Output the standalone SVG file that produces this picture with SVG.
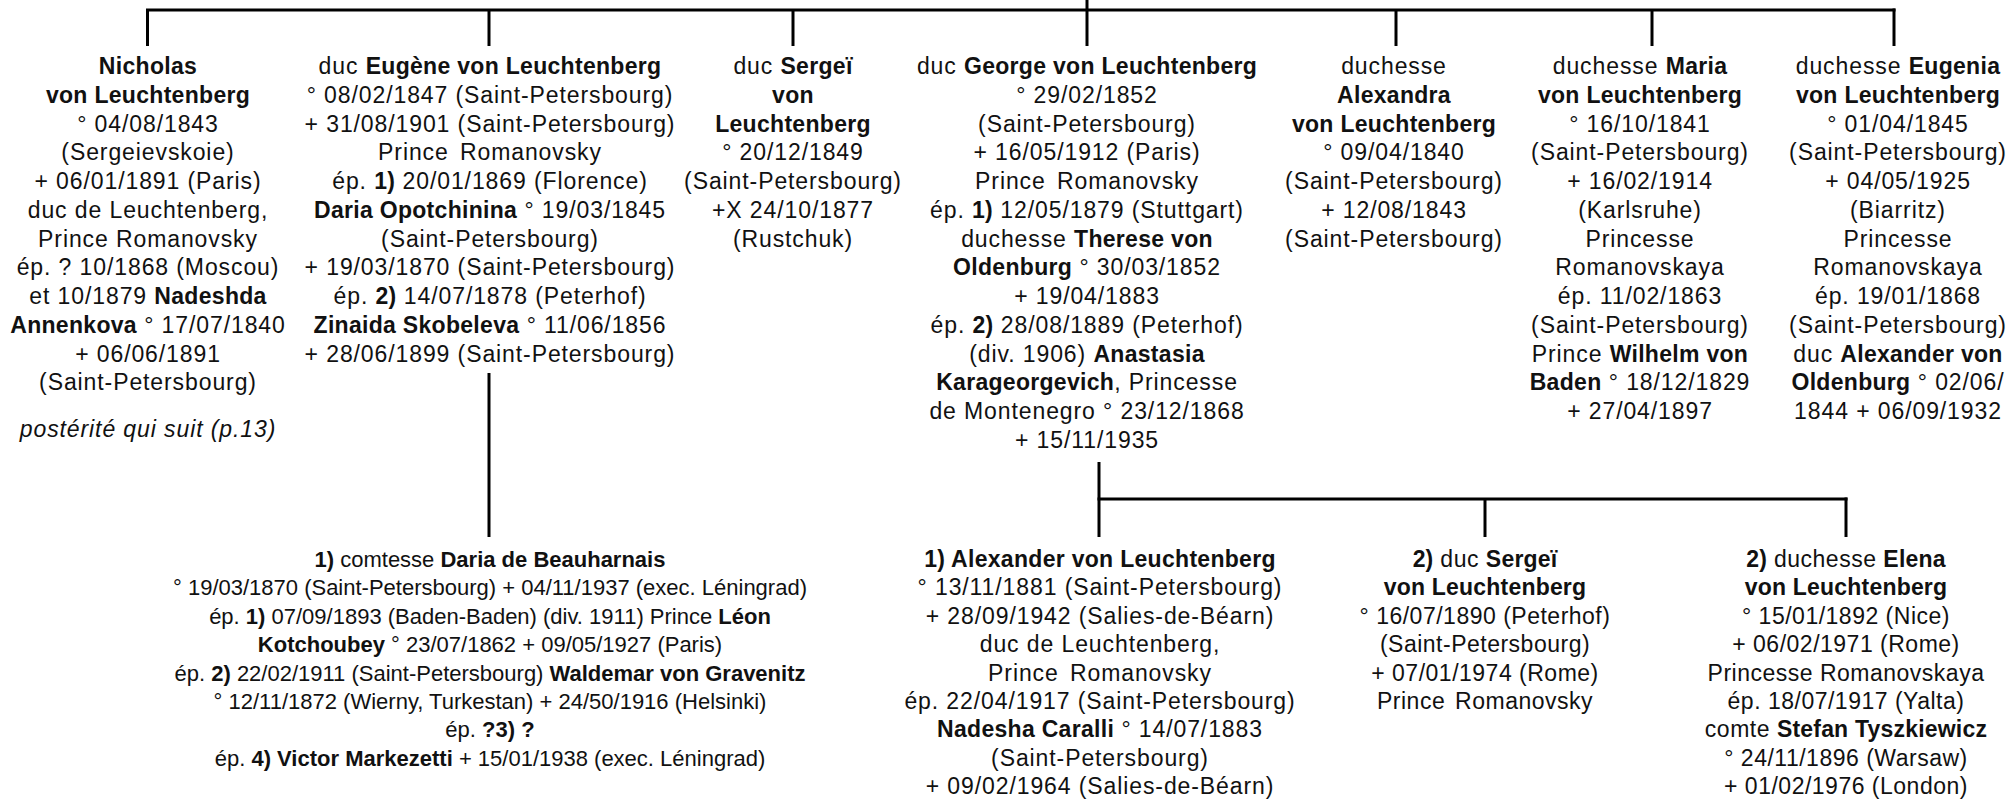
<svg xmlns="http://www.w3.org/2000/svg" width="2011" height="800" viewBox="0 0 2011 800">
<style>
text{font-family:"Liberation Sans",Arial,sans-serif;font-size:23px;fill:#111;text-anchor:middle;letter-spacing:0.9px}
.b{font-weight:bold;letter-spacing:0.3px}
.i{font-style:italic}
.d text{font-size:22px;letter-spacing:0px}
.d .b{letter-spacing:0px}
.e text{letter-spacing:0.5px}
.e .b{letter-spacing:0.2px}
#connectors line{stroke:#000;stroke-width:3;fill:none}
</style>
<rect width="2011" height="800" fill="#fff"/>
<g id="connectors">
<line x1="146" y1="10" x2="1895.5" y2="10"/>
<line x1="1087" y1="0" x2="1087" y2="46"/>
<line x1="147.5" y1="10" x2="147.5" y2="46"/>
<line x1="489" y1="10" x2="489" y2="46"/>
<line x1="793" y1="10" x2="793" y2="46"/>
<line x1="1396" y1="10" x2="1396" y2="46"/>
<line x1="1652" y1="10" x2="1652" y2="46"/>
<line x1="1894" y1="8.5" x2="1894" y2="46"/>
<line x1="489" y1="373" x2="489" y2="537"/>
<line x1="1099" y1="462" x2="1099" y2="537"/>
<line x1="1097.5" y1="499" x2="1847.5" y2="499"/>
<line x1="1485" y1="499" x2="1485" y2="537"/>
<line x1="1846" y1="497.5" x2="1846" y2="537"/>
</g>
<g id="n-nicholas">
<text x="148" y="74"><tspan class="b">Nicholas</tspan></text>
<text x="148" y="102.75"><tspan class="b">von Leuchtenberg</tspan></text>
<text x="148" y="131.5">° 04/08/1843</text>
<text x="148" y="160.25">(Sergeievskoie)</text>
<text x="148" y="189">+ 06/01/1891 (Paris)</text>
<text x="148" y="217.75">duc de Leuchtenberg,</text>
<text x="148" y="246.5">Prince Romanovsky</text>
<text x="148" y="275.25">ép. ? 10/1868 (Moscou)</text>
<text x="148" y="304">et 10/1879 <tspan class="b">Nadeshda</tspan></text>
<text x="148" y="332.75"><tspan class="b">Annenkova</tspan> ° 17/07/1840</text>
<text x="148" y="361.5">+ 06/06/1891</text>
<text x="148" y="390.25">(Saint-Petersbourg)</text>
<text x="148" y="437" class="i">postérité qui suit (p.13)</text>
</g>
<g id="n-eugene">
<text x="490" y="74">duc <tspan class="b">Eugène von Leuchtenberg</tspan></text>
<text x="490" y="102.75">° 08/02/1847 (Saint-Petersbourg)</text>
<text x="490" y="131.5">+ 31/08/1901 (Saint-Petersbourg)</text>
<text x="490" y="160.25" word-spacing="4">Prince Romanovsky</text>
<text x="490" y="189">ép. <tspan class="b">1)</tspan> 20/01/1869 (Florence)</text>
<text x="490" y="217.75"><tspan class="b">Daria Opotchinina</tspan> ° 19/03/1845</text>
<text x="490" y="246.5">(Saint-Petersbourg)</text>
<text x="490" y="275.25">+ 19/03/1870 (Saint-Petersbourg)</text>
<text x="490" y="304">ép. <tspan class="b">2)</tspan> 14/07/1878 (Peterhof)</text>
<text x="490" y="332.75"><tspan class="b">Zinaida Skobeleva</tspan> ° 11/06/1856</text>
<text x="490" y="361.5">+ 28/06/1899 (Saint-Petersbourg)</text>
</g>
<g id="n-sergei">
<text x="793" y="74">duc <tspan class="b">Sergeï</tspan></text>
<text x="793" y="102.75"><tspan class="b">von</tspan></text>
<text x="793" y="131.5"><tspan class="b">Leuchtenberg</tspan></text>
<text x="793" y="160.25">° 20/12/1849</text>
<text x="793" y="189">(Saint-Petersbourg)</text>
<text x="793" y="217.75">+X 24/10/1877</text>
<text x="793" y="246.5">(Rustchuk)</text>
</g>
<g id="n-george">
<text x="1087" y="74">duc <tspan class="b">George von Leuchtenberg</tspan></text>
<text x="1087" y="102.75">° 29/02/1852</text>
<text x="1087" y="131.5">(Saint-Petersbourg)</text>
<text x="1087" y="160.25">+ 16/05/1912 (Paris)</text>
<text x="1087" y="189" word-spacing="4">Prince Romanovsky</text>
<text x="1087" y="217.75">ép. <tspan class="b">1)</tspan> 12/05/1879 (Stuttgart)</text>
<text x="1087" y="246.5">duchesse <tspan class="b">Therese von</tspan></text>
<text x="1087" y="275.25"><tspan class="b">Oldenburg</tspan> ° 30/03/1852</text>
<text x="1087" y="304">+ 19/04/1883</text>
<text x="1087" y="332.75">ép. <tspan class="b">2)</tspan> 28/08/1889  (Peterhof)</text>
<text x="1087" y="361.5">(div. 1906) <tspan class="b">Anastasia</tspan></text>
<text x="1087" y="390.25"><tspan class="b">Karageorgevich</tspan>, Princesse</text>
<text x="1087" y="419">de Montenegro ° 23/12/1868</text>
<text x="1087" y="447.75">+ 15/11/1935</text>
</g>
<g id="n-alexandra">
<text x="1394" y="74">duchesse</text>
<text x="1394" y="102.75"><tspan class="b">Alexandra</tspan></text>
<text x="1394" y="131.5"><tspan class="b">von Leuchtenberg</tspan></text>
<text x="1394" y="160.25">° 09/04/1840</text>
<text x="1394" y="189">(Saint-Petersbourg)</text>
<text x="1394" y="217.75">+ 12/08/1843</text>
<text x="1394" y="246.5">(Saint-Petersbourg)</text>
</g>
<g id="n-maria">
<text x="1640" y="74">duchesse <tspan class="b">Maria</tspan></text>
<text x="1640" y="102.75"><tspan class="b">von Leuchtenberg</tspan></text>
<text x="1640" y="131.5">° 16/10/1841</text>
<text x="1640" y="160.25">(Saint-Petersbourg)</text>
<text x="1640" y="189">+ 16/02/1914</text>
<text x="1640" y="217.75">(Karlsruhe)</text>
<text x="1640" y="246.5">Princesse</text>
<text x="1640" y="275.25">Romanovskaya</text>
<text x="1640" y="304">ép. 11/02/1863</text>
<text x="1640" y="332.75">(Saint-Petersbourg)</text>
<text x="1640" y="361.5">Prince <tspan class="b">Wilhelm von</tspan></text>
<text x="1640" y="390.25"><tspan class="b">Baden</tspan> ° 18/12/1829</text>
<text x="1640" y="419">+ 27/04/1897</text>
</g>
<g id="n-eugenia">
<text x="1898" y="74">duchesse <tspan class="b">Eugenia</tspan></text>
<text x="1898" y="102.75"><tspan class="b">von Leuchtenberg</tspan></text>
<text x="1898" y="131.5">° 01/04/1845</text>
<text x="1898" y="160.25">(Saint-Petersbourg)</text>
<text x="1898" y="189">+ 04/05/1925</text>
<text x="1898" y="217.75">(Biarritz)</text>
<text x="1898" y="246.5">Princesse</text>
<text x="1898" y="275.25">Romanovskaya</text>
<text x="1898" y="304">ép. 19/01/1868</text>
<text x="1898" y="332.75">(Saint-Petersbourg)</text>
<text x="1898" y="361.5">duc <tspan class="b">Alexander von</tspan></text>
<text x="1898" y="390.25"><tspan class="b">Oldenburg</tspan> ° 02/06/</text>
<text x="1898" y="419">1844 + 06/09/1932</text>
</g>
<g id="n-daria" class="d">
<text x="490" y="567"><tspan class="b">1)</tspan> comtesse <tspan class="b">Daria de Beauharnais</tspan></text>
<text x="490" y="595.4">° 19/03/1870 (Saint-Petersbourg) + 04/11/1937 (exec. Léningrad)</text>
<text x="490" y="623.8">ép. <tspan class="b">1)</tspan> 07/09/1893 (Baden-Baden) (div. 1911) Prince <tspan class="b">Léon</tspan></text>
<text x="490" y="652.2"><tspan class="b">Kotchoubey</tspan> ° 23/07/1862 + 09/05/1927 (Paris)</text>
<text x="490" y="680.6">ép. <tspan class="b">2)</tspan> 22/02/1911 (Saint-Petersbourg) <tspan class="b">Waldemar von Gravenitz</tspan></text>
<text x="490" y="709">° 12/11/1872 (Wierny, Turkestan) + 24/50/1916 (Helsinki)</text>
<text x="490" y="737.4">ép. <tspan class="b">?3) ?</tspan></text>
<text x="490" y="765.8">ép. <tspan class="b">4) Victor Markezetti</tspan> + 15/01/1938 (exec. Léningrad)</text>
</g>
<g id="n-alexander">
<text x="1100" y="567"><tspan class="b">1) Alexander von Leuchtenberg</tspan></text>
<text x="1100" y="595.4">° 13/11/1881 (Saint-Petersbourg)</text>
<text x="1100" y="623.8">+ 28/09/1942 (Salies-de-Béarn)</text>
<text x="1100" y="652.2">duc de Leuchtenberg,</text>
<text x="1100" y="680.6" word-spacing="4">Prince Romanovsky</text>
<text x="1100" y="709">ép. 22/04/1917 (Saint-Petersbourg)</text>
<text x="1100" y="737.4"><tspan class="b">Nadesha Caralli</tspan> ° 14/07/1883</text>
<text x="1100" y="765.8">(Saint-Petersbourg)</text>
<text x="1100" y="794.2">+ 09/02/1964 (Salies-de-Béarn)</text>
</g>
<g id="n-sergei2" class="e">
<text x="1485" y="567"><tspan class="b">2)</tspan> duc <tspan class="b">Sergeï</tspan></text>
<text x="1485" y="595.4"><tspan class="b">von Leuchtenberg</tspan></text>
<text x="1485" y="623.8">° 16/07/1890 (Peterhof)</text>
<text x="1485" y="652.2">(Saint-Petersbourg)</text>
<text x="1485" y="680.6">+ 07/01/1974 (Rome)</text>
<text x="1485" y="709" word-spacing="3">Prince Romanovsky</text>
</g>
<g id="n-elena" class="e">
<text x="1846" y="567"><tspan class="b">2)</tspan> duchesse <tspan class="b">Elena</tspan></text>
<text x="1846" y="595.4"><tspan class="b">von Leuchtenberg</tspan></text>
<text x="1846" y="623.8">° 15/01/1892 (Nice)</text>
<text x="1846" y="652.2">+ 06/02/1971 (Rome)</text>
<text x="1846" y="680.6">Princesse Romanovskaya</text>
<text x="1846" y="709">ép. 18/07/1917 (Yalta)</text>
<text x="1846" y="737.4">comte <tspan class="b">Stefan Tyszkiewicz</tspan></text>
<text x="1846" y="765.8">° 24/11/1896 (Warsaw)</text>
<text x="1846" y="794.2">+ 01/02/1976 (London)</text>
</g>
</svg>
